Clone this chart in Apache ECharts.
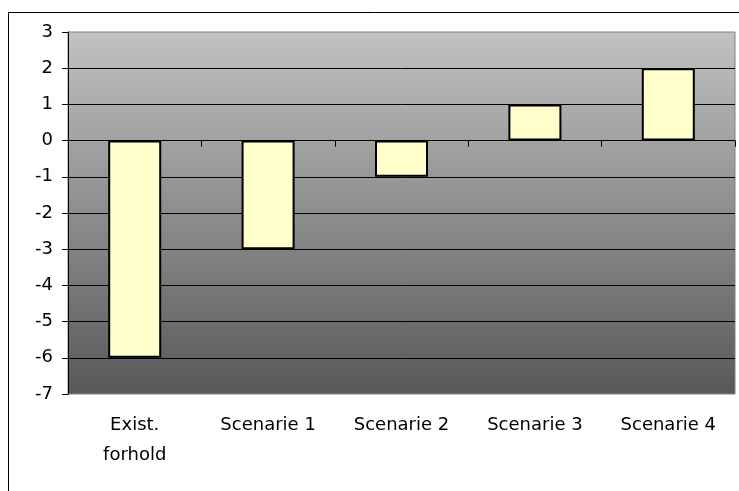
<!DOCTYPE html>
<html>
<head>
<meta charset="utf-8">
<script src="https://cdn.jsdelivr.net/npm/echarts@6/dist/echarts.min.js"></script>
<style>
  html, body { margin: 0; padding: 0; background: #fff; }
  #chart { width: 739px; height: 491px; }
</style>
</head>
<body>
<div id="chart"></div>
<script>
// Scenario comparison: one bar per case, values below and above zero
const categories = ['Exist.\nforhold', 'Scenarie 1', 'Scenarie 2', 'Scenarie 3', 'Scenarie 4'];
const values = [-6, -3, -1, 1, 2];
const yMin = -7;
const yMax = 3;
const yStep = 1;

const FONT = 'DejaVu Sans';
const chart = echarts.init(document.getElementById('chart'), null, { renderer: 'canvas' });

chart.setOption({
  animation: false,
  backgroundColor: '#ffffff',
  textStyle: { fontFamily: FONT },
  graphic: [{
    type: 'rect',
    silent: true,
    z: -10,
    shape: { x: 8.5, y: 12.5, width: 1000, height: 1000 },
    style: { fill: 'none', stroke: '#000', lineWidth: 1 }
  }],
  grid: {
    left: 68, right: 4, top: 32, bottom: 97,
    show: true,
    borderColor: '#808080',
    borderWidth: 1,
    backgroundColor: new echarts.graphic.LinearGradient(0, 0, 0, 1, [
      { offset: 0, color: '#c2c2c2' },
      { offset: 1, color: '#585858' }
    ])
  },
  xAxis: [{
    // category labels along the bottom of the plot
    type: 'category',
    data: categories,
    position: 'bottom',
    axisLine: { show: false, onZero: false },
    axisTick: { show: false },
    splitLine: { show: false },
    axisLabel: {
      color: '#000', fontFamily: FONT, fontSize: 18,
      lineHeight: 30, margin: 16, interval: 0
    }
  }, {
    // zero baseline with its category ticks
    type: 'category',
    data: categories,
    position: 'top',
    axisLine: { show: true, onZero: true, onZeroAxisIndex: 0, lineStyle: { color: '#000', width: 1 } },
    axisTick: { show: true, inside: true, length: 6, lineStyle: { color: '#000' } },
    axisLabel: { show: false },
    splitLine: { show: false }
  }],
  yAxis: {
    type: 'value',
    min: yMin, max: yMax, interval: yStep,
    axisLine: { show: true, lineStyle: { color: '#000', width: 1 } },
    axisTick: { show: true, length: 6, lineStyle: { color: '#000' } },
    axisLabel: { color: '#000', fontFamily: FONT, fontSize: 18, margin: 15 },
    splitLine: { show: true, showMinLine: false, showMaxLine: false, lineStyle: { color: '#000', width: 1 } }
  },
  series: [{
    type: 'bar',
    xAxisIndex: 0,
    data: values,
    barWidth: 53,
    itemStyle: { color: '#ffffcc', borderColor: '#000', borderWidth: 2 }
  }]
});
</script>
</body>
</html>
